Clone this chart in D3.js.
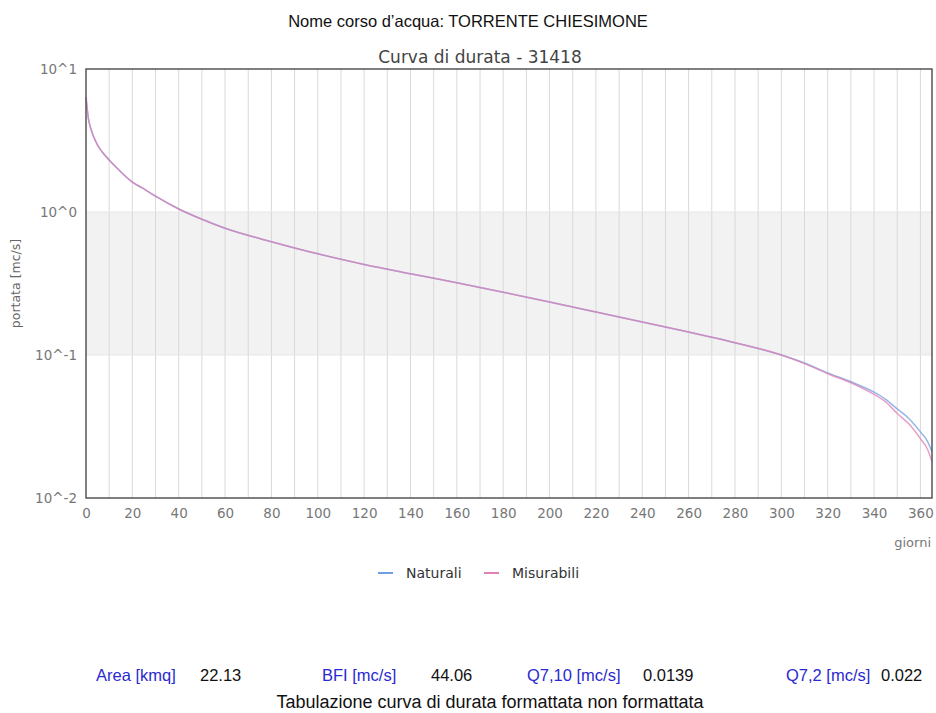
<!DOCTYPE html>
<html>
<head>
<meta charset="utf-8">
<script src="https://cdn.jsdelivr.net/npm/d3@7"></script>
<style>
  body { margin: 0; background: #fff; }
  svg { display: block; }
</style>
</head>
<body>
<svg width="936" height="713"></svg>
<script>
// durata in giorni e portate
var days = [0, 1, 2, 3, 5, 7, 10, 15, 20, 25, 30, 40, 50, 60, 80, 100, 120, 140, 160, 180,
            200, 220, 240, 260, 280, 300, 310, 320, 330, 340, 345, 350, 355, 360, 363, 365];
var naturali = [6.37, 4.54, 3.87, 3.45, 2.94, 2.63, 2.31, 1.91, 1.62, 1.45, 1.29, 1.05, 0.89, 0.77, 0.62, 0.51,
                0.43, 0.37, 0.32, 0.275, 0.235, 0.2, 0.17, 0.145, 0.122, 0.1, 0.088, 0.075, 0.065,
                0.055, 0.049, 0.042, 0.036, 0.029, 0.025, 0.021];
var misurabili = [6.37, 4.54, 3.87, 3.45, 2.94, 2.63, 2.31, 1.91, 1.62, 1.45, 1.29, 1.05, 0.89, 0.77, 0.62, 0.51,
                  0.43, 0.37, 0.32, 0.275, 0.235, 0.2, 0.17, 0.145, 0.122, 0.1, 0.087, 0.074, 0.064,
                  0.053, 0.047, 0.039, 0.033, 0.026, 0.022, 0.018];
var yTicks = [10, 1, 0.1, 0.01];
var yTickLabels = ["10^1", "10^0", "10^-1", "10^-2"];
var seriesNames = ["Naturali", "Misurabili"];
var seriesColors = ["#6f9fe0", "#e27fb4"];
var infoLabels = ["Area [kmq]", "BFI [mc/s]", "Q7,10 [mc/s]", "Q7,2 [mc/s]"];
var infoValues = ["22.13", "44.06", "0.0139", "0.022"];

(function() {
  var svg = d3.select("svg");
  var pLeft = 86, pRight = 932, pTop = 69, pBottom = 498;

  var x = d3.scaleLinear().domain([0, 365]).range([pLeft, pRight]);
  var y = d3.scaleLog().domain([0.01, 10]).range([pBottom, pTop]);

  // titoli
  svg.append("text")
    .attr("x", 468).attr("y", 27)
    .attr("text-anchor", "middle")
    .style("font-family", "Liberation Sans, Arial, sans-serif")
    .style("font-size", "16.5px")
    .attr("fill", "#111")
    .text("Nome corso d\u2019acqua: TORRENTE CHIESIMONE");

  svg.append("text")
    .attr("x", 480).attr("y", 63)
    .attr("text-anchor", "middle")
    .style("font-family", "DejaVu Sans, sans-serif")
    .style("font-size", "17px")
    .attr("fill", "#444")
    .text("Curva di durata - 31418");

  // banda grigia tra 10^0 e 10^-1
  svg.append("rect")
    .attr("x", pLeft).attr("y", y(1))
    .attr("width", pRight - pLeft).attr("height", y(0.1) - y(1))
    .attr("fill", "#f2f2f2");

  // griglia verticale ogni 10 giorni
  svg.append("g").selectAll("line")
    .data(d3.range(10, 365, 10)).enter().append("line")
      .attr("x1", function(d) { return x(d); })
      .attr("x2", function(d) { return x(d); })
      .attr("y1", pTop).attr("y2", pBottom)
      .attr("stroke", "#d9d9d9")
      .attr("stroke-width", 1);

  svg.append("g").selectAll("line")
    .data([1, 0.1]).enter().append("line")
      .attr("x1", pLeft).attr("x2", pRight)
      .attr("y1", function(d) { return y(d); })
      .attr("y2", function(d) { return y(d); })
      .attr("stroke", "#e6e6e6");

  // curve
  var line = d3.line()
    .x(function(d) { return x(d[0]); })
    .y(function(d) { return y(d[1]); })
    .curve(d3.curveMonotoneX);

  [naturali, misurabili].forEach(function(vals, i) {
    svg.append("path")
      .datum(days.map(function(d, j) { return [d, vals[j]]; }))
      .attr("d", line)
      .attr("fill", "none")
      .attr("stroke", seriesColors[i])
      .attr("stroke-opacity", 0.75)
      .attr("stroke-width", 1.5);
  });

  // cornice
  svg.append("rect")
    .attr("x", pLeft).attr("y", pTop)
    .attr("width", pRight - pLeft).attr("height", pBottom - pTop)
    .attr("fill", "none")
    .attr("stroke", "#555")
    .attr("stroke-width", 1.5);

  // assi
  var xAxis = d3.axisBottom(x).tickValues(d3.range(0, 361, 20)).tickSize(0).tickPadding(10);
  svg.append("g")
    .attr("transform", "translate(0," + pBottom + ")")
    .call(xAxis)
    .call(function(g) {
      g.select(".domain").remove();
      g.selectAll("text")
        .style("font-family", "DejaVu Sans, sans-serif")
        .style("font-size", "13.5px")
        .attr("fill", "#777");
    });

  var yAxis = d3.axisLeft(y).tickValues(yTicks)
    .tickFormat(function(d, i) { return yTickLabels[i]; })
    .tickSize(0).tickPadding(9);
  svg.append("g")
    .attr("transform", "translate(" + pLeft + ",0)")
    .call(yAxis)
    .call(function(g) {
      g.select(".domain").remove();
      g.selectAll("text")
        .style("font-family", "DejaVu Sans, sans-serif")
        .style("font-size", "13.5px")
        .attr("fill", "#777");
    });

  svg.append("text")
    .attr("x", 931).attr("y", 547)
    .attr("text-anchor", "end")
    .style("font-family", "DejaVu Sans, sans-serif")
    .style("font-size", "13px")
    .attr("fill", "#777")
    .text("giorni");

  svg.append("text")
    .attr("transform", "translate(20," + ((pTop + pBottom) / 2) + ") rotate(-90)")
    .attr("text-anchor", "middle")
    .style("font-family", "DejaVu Sans, sans-serif")
    .style("font-size", "12.5px")
    .attr("fill", "#666")
    .text("portata [mc/s]");

  // legenda
  var legendX = [378, 484];
  var legend = svg.append("g").selectAll("g")
    .data(seriesNames).enter().append("g")
      .attr("transform", function(d, i) { return "translate(" + legendX[i] + ",573)"; });
  legend.append("line")
    .attr("x1", 0).attr("x2", 15)
    .attr("stroke", function(d, i) { return seriesColors[i]; })
    .attr("stroke-width", 2);
  legend.append("text")
    .attr("x", 28).attr("y", 5)
    .style("font-family", "DejaVu Sans, sans-serif")
    .style("font-size", "14px")
    .attr("fill", "#333")
    .text(function(d) { return d; });

  // tabella riassuntiva
  var labelX = [96, 322, 527, 786];
  var valueX = [200, 431, 643, 881];
  infoLabels.forEach(function(t, i) {
    svg.append("text")
      .attr("x", labelX[i]).attr("y", 681)
      .style("font-family", "Liberation Sans, Arial, sans-serif")
      .style("font-size", "16.5px")
      .attr("fill", "#2a2ad0")
      .text(t);
    svg.append("text")
      .attr("x", valueX[i]).attr("y", 681)
      .style("font-family", "Liberation Sans, Arial, sans-serif")
      .style("font-size", "16.5px")
      .attr("fill", "#111")
      .text(infoValues[i]);
  });

  svg.append("text")
    .attr("x", 490).attr("y", 708)
    .attr("text-anchor", "middle")
    .style("font-family", "Liberation Sans, Arial, sans-serif")
    .style("font-size", "18px")
    .attr("fill", "#111")
    .text("Tabulazione curva di durata formattata non formattata");
})();
</script>
</body>
</html>
